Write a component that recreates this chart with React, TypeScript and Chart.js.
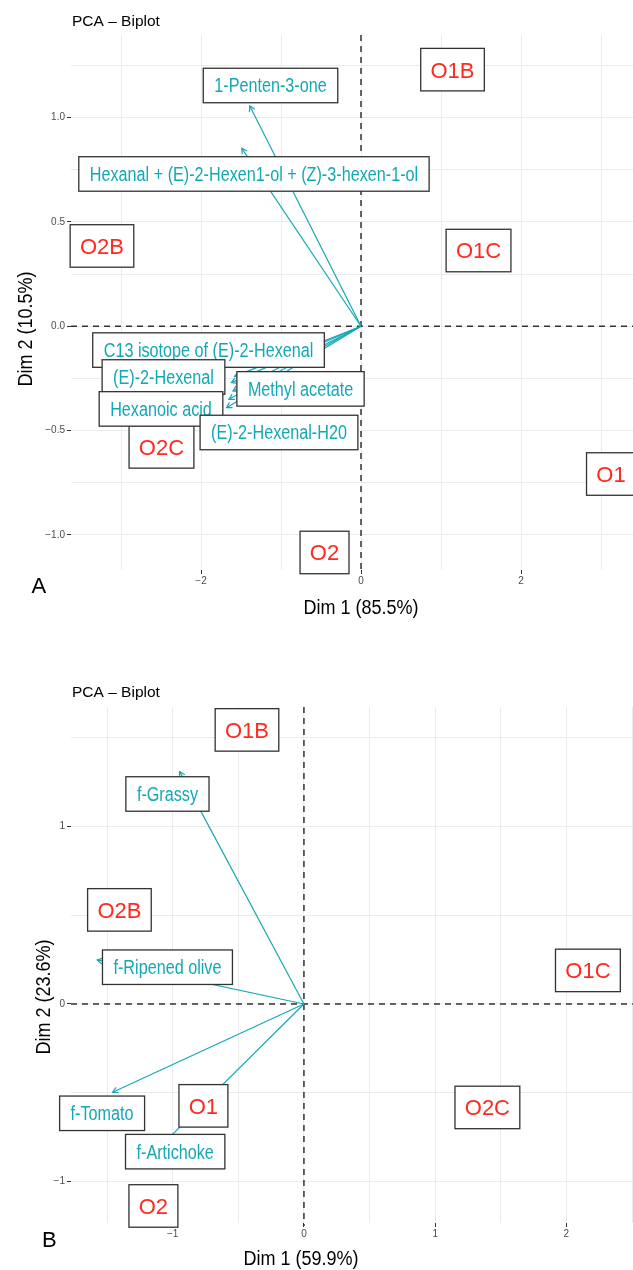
import React, { useEffect, useRef } from "react";
import { Chart, registerables } from "chart.js";

Chart.register(...registerables);

const FONT = '"Liberation Sans", Arial, Helvetica, sans-serif';
const TEAL = "#14A8B7";
const RED = "#FF2A1F";
const BOX_BORDER = "#333333";
const GRID = "#EBEBEB";
const ZERO_LINE = "#333333";

// ---------------- Panel A data ----------------
const aTitle = "PCA – Biplot";
const aXTitle = "Dim 1 (85.5%)";
const aYTitle = "Dim 2 (10.5%)";
const aLetter = "A";
const aVarNames = [
  "1-Penten-3-one",
  "Hexanal + (E)-2-Hexen1-ol + (Z)-3-hexen-1-ol",
  "C13 isotope of (E)-2-Hexenal",
  "(E)-2-Hexenal",
  "Methyl acetate",
  "Hexanoic acid",
  "(E)-2-Hexenal-H20",
];
const aVarX = [-1.39, -1.49, -1.58, -1.62, -1.6, -1.68, -1.65];
const aVarY = [1.056, 0.853, -0.24, -0.27, -0.31, -0.39, -0.35];
const aVarLabelX = [-1.131, -1.338, -1.906, -2.469, -0.756, -2.5, -1.025];
const aVarLabelY = [1.154, 0.73, -0.114, -0.243, -0.3, -0.396, -0.509];
const aIndNames = ["O1B", "O2B", "O1C", "O2C", "O1", "O2"];
const aIndLabelX = [1.144, -3.238, 1.469, -2.494, 3.125, -0.456];
const aIndLabelY = [1.23, 0.385, 0.363, -0.578, -0.708, -1.084];
const aXGrid = [-3, -2, -1, 0, 1, 2, 3];
const aXTicks = [-2, 0, 2];
const aXTickText = ["\u22122", "0", "2"];
const aYGrid = [-1, -0.75, -0.5, -0.25, 0, 0.25, 0.5, 0.75, 1, 1.25];
const aYTicks = [-1, -0.5, 0, 0.5, 1];
const aYTickText = ["\u22121.0", "\u22120.5", "0.0", "0.5", "1.0"];
const aXRange = [-3.625, 3.4];
const aYRange = [-1.168, 1.396];

// ---------------- Panel B data ----------------
const bTitle = "PCA – Biplot";
const bXTitle = "Dim 1 (59.9%)";
const bYTitle = "Dim 2 (23.6%)";
const bLetter = "B";
const bVarNames = ["f-Grassy", "f-Ripened olive", "f-Tomato", "f-Artichoke"];
const bVarX = [-0.947, -1.575, -1.458, -1.067];
const bVarY = [1.309, 0.248, -0.497, -0.783];
const bVarLabelX = [-1.04, -1.04, -1.538, -0.981];
const bVarLabelY = [1.183, 0.207, -0.616, -0.832];
const bIndNames = ["O1B", "O2B", "O1C", "O1", "O2C", "O2"];
const bIndLabelX = [-0.434, -1.406, 2.164, -0.766, 1.398, -1.147];
const bIndLabelY = [1.544, 0.53, 0.189, -0.574, -0.583, -1.138];
const bXGrid = [-1.5, -1, -0.5, 0, 0.5, 1, 1.5, 2, 2.5];
const bXTicks = [-1, 0, 1, 2];
const bXTickText = ["\u22121", "0", "1", "2"];
const bYGrid = [-1, -0.5, 0, 0.5, 1, 1.5];
const bYTicks = [-1, 0, 1];
const bYTickText = ["\u22121", "0", "1"];
const bXRange = [-1.775, 2.507];
const bYRange = [-1.234, 1.673];

type Spec = {
  top: number;
  height: number;
  padTop: number;
  xAxisH: number;
  title: string;
  xTitle: string;
  yTitle: string;
  letter: string;
  titlePos: [number, number];
  xTitlePos: [number, number];
  yTitlePos: [number, number];
  letterPos: [number, number];
  varNames: string[];
  varX: number[];
  varY: number[];
  varLabelX: number[];
  varLabelY: number[];
  indNames: string[];
  indLabelX: number[];
  indLabelY: number[];
  xGrid: number[];
  xTicks: number[];
  xTickText: string[];
  yGrid: number[];
  yTicks: number[];
  yTickText: string[];
  xRange: number[];
  yRange: number[];
};

const specA: Spec = {
  top: 0,
  height: 640,
  padTop: 35,
  xAxisH: 70,
  title: aTitle,
  xTitle: aXTitle,
  yTitle: aYTitle,
  letter: aLetter,
  titlePos: [72, 26],
  xTitlePos: [361, 614],
  yTitlePos: [31.5, 329],
  letterPos: [31.5, 593],
  varNames: aVarNames,
  varX: aVarX,
  varY: aVarY,
  varLabelX: aVarLabelX,
  varLabelY: aVarLabelY,
  indNames: aIndNames,
  indLabelX: aIndLabelX,
  indLabelY: aIndLabelY,
  xGrid: aXGrid,
  xTicks: aXTicks,
  xTickText: aXTickText,
  yGrid: aYGrid,
  yTicks: aYTicks,
  yTickText: aYTickText,
  xRange: aXRange,
  yRange: aYRange,
};

const specB: Spec = {
  top: 640,
  height: 630,
  padTop: 67,
  xAxisH: 47,
  title: bTitle,
  xTitle: bXTitle,
  yTitle: bYTitle,
  letter: bLetter,
  titlePos: [72, 57],
  xTitlePos: [301, 625],
  yTitlePos: [50, 357],
  letterPos: [42, 607],
  varNames: bVarNames,
  varX: bVarX,
  varY: bVarY,
  varLabelX: bVarLabelX,
  varLabelY: bVarLabelY,
  indNames: bIndNames,
  indLabelX: bIndLabelX,
  indLabelY: bIndLabelY,
  xGrid: bXGrid,
  xTicks: bXTicks,
  xTickText: bXTickText,
  yGrid: bYGrid,
  yTicks: bYTicks,
  yTickText: bYTickText,
  xRange: bXRange,
  yRange: bYRange,
};

function drawBoxLabel(
  ctx: CanvasRenderingContext2D,
  cx: number,
  cy: number,
  text: string,
  fontSize: number,
  sx: number,
  padX: number,
  h: number,
  color: string
) {
  ctx.save();
  ctx.font = `${fontSize}px ${FONT}`;
  const w = ctx.measureText(text).width * sx + 2 * padX;
  const left = cx - w / 2;
  const top = cy - h / 2;
  ctx.setLineDash([]);
  ctx.fillStyle = "#ffffff";
  ctx.fillRect(left, top, w, h);
  ctx.strokeStyle = BOX_BORDER;
  ctx.lineWidth = 1.3;
  ctx.strokeRect(left, top, w, h);
  ctx.translate(cx, cy + (0.716 * fontSize) / 2);
  ctx.scale(sx, 1);
  ctx.fillStyle = color;
  ctx.textAlign = "center";
  ctx.textBaseline = "alphabetic";
  ctx.fillText(text, 0, 0);
  ctx.restore();
}

function makePlugin(spec: Spec) {
  return {
    id: "biplot",
    beforeDatasetsDraw(chart: any) {
      const { ctx, chartArea: a } = chart;
      const x = chart.scales.x;
      const y = chart.scales.y;
      const x0 = x.getPixelForValue(0);
      const y0 = y.getPixelForValue(0);
      ctx.save();
      ctx.strokeStyle = ZERO_LINE;
      ctx.lineWidth = 1.5;
      ctx.setLineDash([6, 5]);
      ctx.beginPath();
      ctx.moveTo(a.left, y0);
      ctx.lineTo(a.right, y0);
      ctx.stroke();
      ctx.beginPath();
      ctx.moveTo(x0, a.top);
      ctx.lineTo(x0, a.bottom + 3);
      ctx.stroke();
      ctx.restore();
    },
    afterDatasetsDraw(chart: any) {
      const { ctx } = chart;
      const x = chart.scales.x;
      const y = chart.scales.y;
      const ox = x.getPixelForValue(0);
      const oy = y.getPixelForValue(0);
      // arrowheads
      ctx.save();
      ctx.strokeStyle = TEAL;
      ctx.lineWidth = 1.2;
      ctx.setLineDash([]);
      spec.varX.forEach((vx, i) => {
        const px = x.getPixelForValue(vx);
        const py = y.getPixelForValue(spec.varY[i]);
        const ang = Math.atan2(py - oy, px - ox);
        const L = 6;
        ctx.beginPath();
        ctx.moveTo(px - L * Math.cos(ang - Math.PI / 6), py - L * Math.sin(ang - Math.PI / 6));
        ctx.lineTo(px, py);
        ctx.lineTo(px - L * Math.cos(ang + Math.PI / 6), py - L * Math.sin(ang + Math.PI / 6));
        ctx.stroke();
      });
      ctx.restore();
      // individual labels
      spec.indNames.forEach((n, i) => {
        drawBoxLabel(
          ctx,
          x.getPixelForValue(spec.indLabelX[i]),
          y.getPixelForValue(spec.indLabelY[i]),
          n,
          22,
          1,
          9.8,
          42.5,
          RED
        );
      });
      // variable labels
      spec.varNames.forEach((n, i) => {
        drawBoxLabel(
          ctx,
          x.getPixelForValue(spec.varLabelX[i]),
          y.getPixelForValue(spec.varLabelY[i]),
          n,
          19.5,
          0.83,
          11,
          34.5,
          TEAL
        );
      });
    },
    afterDraw(chart: any) {
      const { ctx } = chart;
      ctx.save();
      ctx.fillStyle = "#000000";
      // title
      ctx.font = `15.5px ${FONT}`;
      ctx.textAlign = "left";
      ctx.textBaseline = "alphabetic";
      ctx.fillText(spec.title, spec.titlePos[0], spec.titlePos[1]);
      // letter
      ctx.font = `22px ${FONT}`;
      ctx.fillText(spec.letter, spec.letterPos[0], spec.letterPos[1]);
      // x title
      ctx.save();
      ctx.font = `20px ${FONT}`;
      ctx.translate(spec.xTitlePos[0], spec.xTitlePos[1]);
      ctx.scale(0.9, 1);
      ctx.textAlign = "center";
      ctx.fillText(spec.xTitle, 0, 0);
      ctx.restore();
      // y title
      ctx.save();
      ctx.font = `20px ${FONT}`;
      ctx.translate(spec.yTitlePos[0], spec.yTitlePos[1]);
      ctx.rotate(-Math.PI / 2);
      ctx.scale(0.9, 1);
      ctx.textAlign = "center";
      ctx.fillText(spec.yTitle, 0, 0);
      ctx.restore();
      ctx.restore();
    },
  };
}

function Panel({ spec }: { spec: Spec }) {
  const ref = useRef<HTMLCanvasElement | null>(null);
  useEffect(() => {
    if (!ref.current) return;
    const datasets = spec.varNames.map((n, i) => ({
      label: n,
      data: [
        { x: 0, y: 0 },
        { x: spec.varX[i], y: spec.varY[i] },
      ],
      showLine: true,
      borderColor: TEAL,
      borderWidth: 1.2,
      pointRadius: 0,
      fill: false,
    }));
    const tickCol = (list: number[]) => (c: any) =>
      c && c.tick && list.includes(c.tick.value) ? "#333333" : "rgba(0,0,0,0)";
    const chart = new Chart(ref.current, {
      type: "scatter",
      data: { datasets },
      plugins: [makePlugin(spec)],
      options: {
        responsive: false,
        animation: false,
        events: [],
        layout: { padding: { top: spec.padTop, left: 0, right: 0, bottom: 0 } },
        plugins: {
          legend: { display: false },
          tooltip: { enabled: false },
          title: { display: false },
        },
        scales: {
          x: {
            type: "linear",
            min: spec.xRange[0],
            max: spec.xRange[1],
            afterBuildTicks: (s: any) => {
              s.ticks = spec.xGrid.map((v) => ({ value: v }));
            },
            afterFit: (s: any) => {
              s.height = spec.xAxisH;
            },
            ticks: {
              autoSkip: false,
              maxRotation: 0,
              padding: 1,
              color: "#4D4D4D",
              font: { family: FONT, size: 10 },
              callback: (v: any) => {
                const i = spec.xTicks.indexOf(Number(v));
                return i < 0 ? "" : spec.xTickText[i];
              },
            },
            grid: {
              color: GRID,
              lineWidth: 1,
              tickLength: 4,
              tickWidth: 1,
              tickColor: tickCol(spec.xTicks),
            },
            border: { display: false },
          },
          y: {
            type: "linear",
            min: spec.yRange[0],
            max: spec.yRange[1],
            afterBuildTicks: (s: any) => {
              s.ticks = spec.yGrid.map((v) => ({ value: v }));
            },
            afterFit: (s: any) => {
              s.width = 71;
            },
            ticks: {
              autoSkip: false,
              padding: 2,
              color: "#4D4D4D",
              font: { family: FONT, size: 10 },
              callback: (v: any) => {
                const i = spec.yTicks.indexOf(Number(v));
                return i < 0 ? "" : spec.yTickText[i];
              },
            },
            grid: {
              color: GRID,
              lineWidth: 1,
              tickLength: 4,
              tickWidth: 1,
              tickColor: tickCol(spec.yTicks),
            },
            border: { display: false },
          },
        },
      } as any,
    });
    return () => chart.destroy();
  }, [spec]);
  return (
    <canvas
      ref={ref}
      width={633}
      height={spec.height}
      style={{
        position: "absolute",
        left: 0,
        top: spec.top,
        width: 633,
        height: spec.height,
        display: "block",
      }}
    />
  );
}

export default function App() {
  return (
    <div
      style={{
        position: "absolute",
        left: 0,
        top: 0,
        width: 633,
        height: 1270,
        overflow: "hidden",
        background: "#ffffff",
      }}
    >
      <Panel spec={specA} />
      <Panel spec={specB} />
    </div>
  );
}
